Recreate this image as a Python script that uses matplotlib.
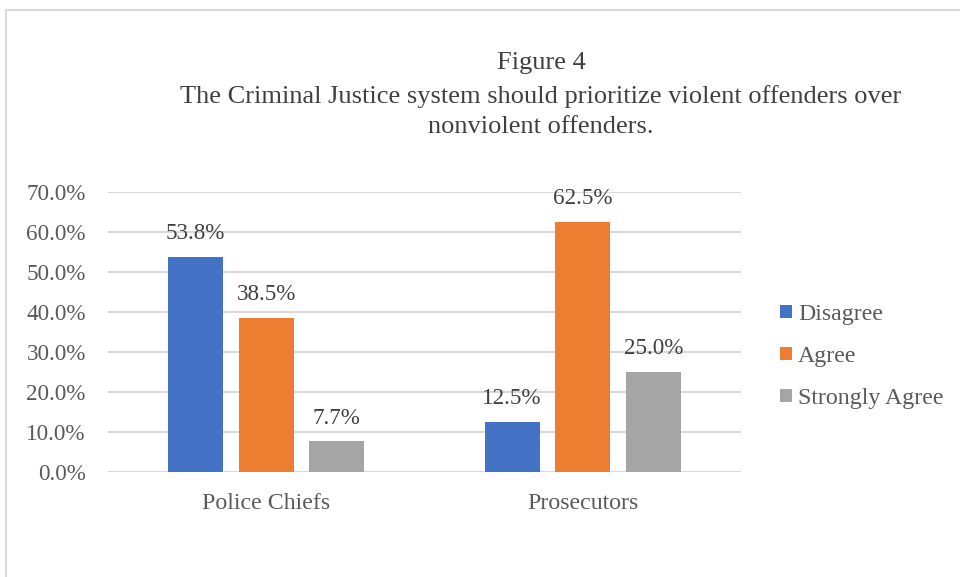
import matplotlib.pyplot as plt
import numpy as np
from matplotlib.patches import Rectangle

plt.rcParams['font.family'] = ['Liberation Serif', 'DejaVu Serif']

groups = ['Police Chiefs', 'Prosecutors']
series = ['Disagree', 'Agree', 'Strongly Agree']
disagree = [53.8, 12.5]
agree = [38.5, 62.5]
strongly_agree = [7.7, 25.0]
colors = ['#4472c4', '#ed7d31', '#a5a5a5']
yticks = [0, 10, 20, 30, 40, 50, 60, 70]

fig = plt.figure(figsize=(9.6, 5.77), dpi=100)

# light chart-area frame
fig.patches.append(Rectangle((6 / 960, -0.1), 1.0, 1 - 10 / 577 + 0.1,
                             transform=fig.transFigure, fill=False,
                             edgecolor='#d9d9d9', linewidth=1.5))

ax = fig.add_axes([108 / 960, 1 - 472 / 577, (741 - 108) / 960, 280 / 577])

x = np.arange(len(groups))
width = 0.174
step = 0.223
for i, (name, vals) in enumerate(zip(series, [disagree, agree, strongly_agree])):
    pos = x + (i - 1) * step
    bars = ax.bar(pos, vals, width, color=colors[i], label=name, zorder=3)
    for b, v in zip(bars, vals):
        ax.text(b.get_x() + b.get_width() / 2, v + 5.8, f'{v:.1f}%',
                ha='center', va='center', fontsize=16.7, color='#404040')

ax.set_xlim(-0.5, 1.5)
ax.set_ylim(0, 70)
ax.set_yticks(yticks)
ax.set_yticklabels([f'{t:.1f}%' for t in yticks], fontsize=16.7, color='#595959')
ax.set_xticks(x)
ax.set_xticklabels(groups, fontsize=17.2, color='#595959')
ax.tick_params(length=0, axis='y', pad=16)
ax.tick_params(length=0, axis='x', pad=15)
ax.grid(axis='y', color='#d9d9d9', linewidth=1.5, zorder=0)
for s in ax.spines.values():
    s.set_visible(False)

fig.text(541 / 960, 1 - 63 / 577, 'Figure 4', ha='center', va='center',
         fontsize=19, color='#404040')
fig.text(541 / 960, 1 - 112 / 577,
         'The Criminal Justice system should prioritize violent offenders over\nnonviolent offenders.',
         ha='center', va='center', fontsize=19, color='#404040', linespacing=1.47)

leg = ax.legend(loc='center left', bbox_to_anchor=(1.028, 0.412), frameon=False,
                fontsize=17.2, handlelength=0.5, handleheight=0.5,
                handletextpad=0.25, labelspacing=0.88)
for t in leg.get_texts():
    t.set_color('#595959')

fig.savefig('out.png', dpi=100)
